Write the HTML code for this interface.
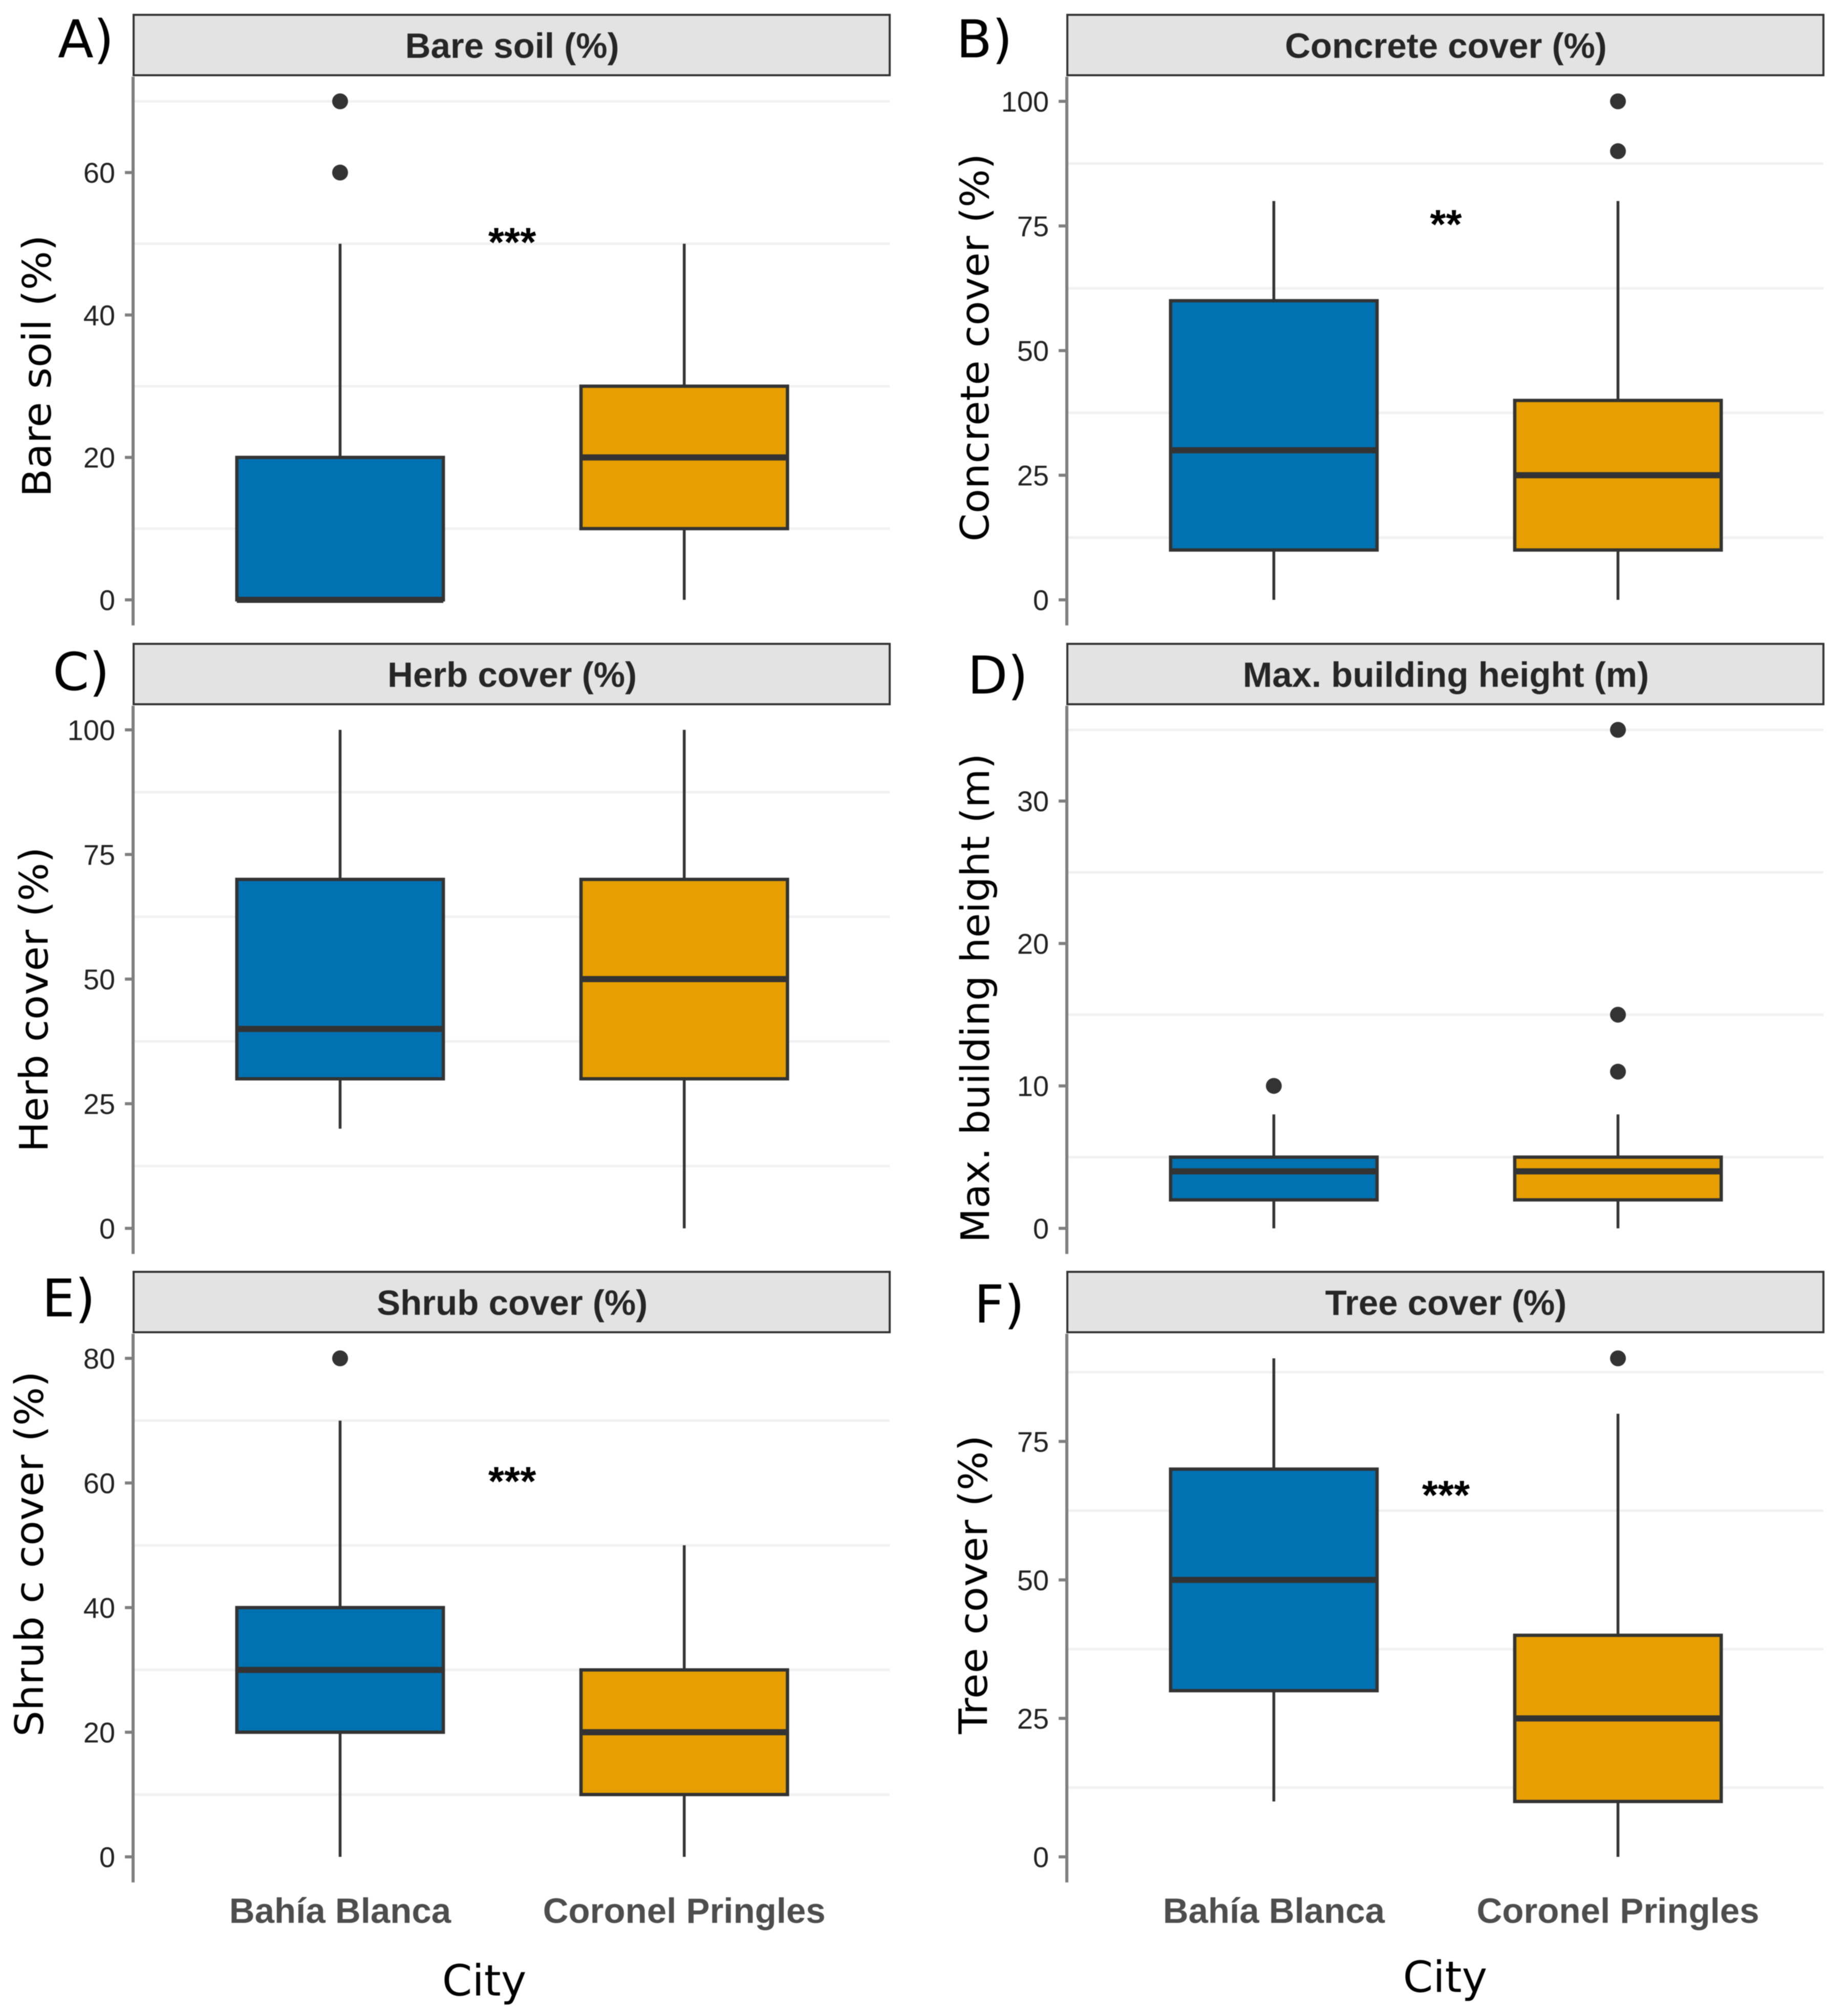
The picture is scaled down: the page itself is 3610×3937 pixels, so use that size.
<!DOCTYPE html>
<html>
<head>
<meta charset="utf-8">
<title>Urban cover boxplots by city</title>
<style>
html,body{margin:0;padding:0;background:#fff;width:3610px;height:3937px;overflow:hidden}
svg{display:block;position:absolute;left:0;top:0;filter:blur(0.8px)}
</style>
</head>
<body>
<svg id="chart" xmlns="http://www.w3.org/2000/svg" width="3610" height="3937" viewBox="0 0 3610 3937"></svg>
<script>
const categories = ['Bahía Blanca', 'Coronel Pringles'];
const xAxisTitle = 'City';

// Boxplot stats are [lower whisker, q1, median, q3, upper whisker]
const bareSoilDomain = [0, 70];
const bareSoilTicks = [0, 20, 40, 60];
const bareSoilGrid = [10, 30, 50, 70];
const bareSoilBahia = [0, 0, 0, 20, 50];
const bareSoilBahiaOutliers = [60, 70];
const bareSoilPringles = [0, 10, 20, 30, 50];
const bareSoilPringlesOutliers = [];
const bareSoilSignificance = ['***', 50];

const concreteDomain = [0, 100];
const concreteTicks = [0, 25, 50, 75, 100];
const concreteGrid = [12.5, 37.5, 62.5, 87.5];
const concreteBahia = [0, 10, 30, 60, 80];
const concreteBahiaOutliers = [];
const concretePringles = [0, 10, 25, 40, 80];
const concretePringlesOutliers = [90, 100];
const concreteSignificance = ['**', 75];

const herbDomain = [0, 100];
const herbTicks = [0, 25, 50, 75, 100];
const herbGrid = [12.5, 37.5, 62.5, 87.5];
const herbBahia = [20, 30, 40, 70, 100];
const herbBahiaOutliers = [];
const herbPringles = [0, 30, 50, 70, 100];
const herbPringlesOutliers = [];
const herbSignificance = ['', 0];

const heightDomain = [0, 35];
const heightTicks = [0, 10, 20, 30];
const heightGrid = [5, 15, 25, 35];
const heightBahia = [0, 2, 4, 5, 8];
const heightBahiaOutliers = [10];
const heightPringles = [0, 2, 4, 5, 8];
const heightPringlesOutliers = [11, 15, 35];
const heightSignificance = ['', 0];

const shrubDomain = [0, 80];
const shrubTicks = [0, 20, 40, 60, 80];
const shrubGrid = [10, 30, 50, 70];
const shrubBahia = [0, 20, 30, 40, 70];
const shrubBahiaOutliers = [80];
const shrubPringles = [0, 10, 20, 30, 50];
const shrubPringlesOutliers = [];
const shrubSignificance = ['***', 60];

const treeDomain = [0, 90];
const treeTicks = [0, 25, 50, 75];
const treeGrid = [12.5, 37.5, 62.5, 87.5];
const treeBahia = [10, 30, 50, 70, 90];
const treeBahiaOutliers = [];
const treePringles = [0, 10, 25, 40, 80];
const treePringlesOutliers = [90];
const treeSignificance = ['***', 65];

const panels = [
  {key:'bare-soil', tag:'A)', title:'Bare soil (%)', yTitle:'Bare soil (%)', col:0, row:0, domain:bareSoilDomain, ticks:bareSoilTicks, grid:bareSoilGrid,
   series:[bareSoilBahia, bareSoilPringles], outliers:[bareSoilBahiaOutliers, bareSoilPringlesOutliers], sig:bareSoilSignificance,
   tagX:113, tagY:112, titleX:99, titleMid:715, titleLen:512},
  {key:'concrete', tag:'B)', title:'Concrete cover (%)', yTitle:'Concrete cover (%)', col:1, row:0, domain:concreteDomain, ticks:concreteTicks, grid:concreteGrid,
   series:[concreteBahia, concretePringles], outliers:[concreteBahiaOutliers, concretePringlesOutliers], sig:concreteSignificance,
   tagX:1868, tagY:112, titleX:1931, titleMid:679, titleLen:758},
  {key:'herb', tag:'C)', title:'Herb cover (%)', yTitle:'Herb cover (%)', col:0, row:1, domain:herbDomain, ticks:herbTicks, grid:herbGrid,
   series:[herbBahia, herbPringles], outliers:[herbBahiaOutliers, herbPringlesOutliers], sig:herbSignificance,
   tagX:103, tagY:1348, titleX:93, titleMid:1953, titleLen:596},
  {key:'height', tag:'D)', title:'Max. building height (m)', yTitle:'Max. building height (m)', col:1, row:1, domain:heightDomain, ticks:heightTicks, grid:heightGrid,
   series:[heightBahia, heightPringles], outliers:[heightBahiaOutliers, heightPringlesOutliers], sig:heightSignificance,
   tagX:1890, tagY:1355, titleX:1932, titleMid:1950, titleLen:956},
  {key:'shrub', tag:'E)', title:'Shrub cover (%)', yTitle:'Shrub c cover (%)', col:0, row:2, domain:shrubDomain, ticks:shrubTicks, grid:shrubGrid,
   series:[shrubBahia, shrubPringles], outliers:[shrubBahiaOutliers, shrubPringlesOutliers], sig:shrubSignificance,
   tagX:82, tagY:2572, titleX:84, titleMid:3036, titleLen:714},
  {key:'tree', tag:'F)', title:'Tree cover (%)', yTitle:'Tree cover (%)', col:1, row:2, domain:treeDomain, ticks:treeTicks, grid:treeGrid,
   series:[treeBahia, treePringles], outliers:[treeBahiaOutliers, treePringlesOutliers], sig:treeSignificance,
   tagX:1903, tagY:2584, titleX:1928, titleMid:3096, titleLen:584}
];

const NS = 'http://www.w3.org/2000/svg';
const svg = document.getElementById('chart');
const SANS = '"Liberation Sans", sans-serif';
const DEJAVU = '"DejaVu Sans", sans-serif';
const fills = ['#0072B2', '#E69F00'];
const colLeft = [261, 2085];
const colWidth = 1477;
const scaleWidth = 1479;
const rowZero = [1172, 2400, 3628];
const plotHeight = 974;
const stripTop = [29, 1258, 2485];
const stripHeight = 118;

function make(parent, tag, attrs, text) {
  const el = document.createElementNS(NS, tag);
  for (const k in attrs) el.setAttribute(k, attrs[k]);
  if (text !== undefined) el.textContent = text;
  parent.appendChild(el);
  return el;
}
function xScale(panel, index) {
  // discrete axis with 0.6 unit expansion on either side
  return colLeft[panel.col] + (index + 0.6) * (scaleWidth / 2.2);
}
function yScale(panel, value) {
  const d = panel.domain;
  return rowZero[panel.row] - (value - d[0]) / (d[1] - d[0]) * plotHeight;
}

panels.forEach(function (p) {
  const left = colLeft[p.col];
  const right = left + colWidth;
  const top = stripTop[p.row];
  const unit = scaleWidth / 2.2;
  const g = make(svg, 'g', {});
  
  

  p.grid.forEach(function (v) {
    const line = make(g, 'line', {x1:left, x2:right, y1:yScale(p, v), y2:yScale(p, v), stroke:'#f1f1f1', 'stroke-width':5});
    
    
  });

  const strip = make(g, 'rect', {x:left, y:top, width:colWidth, height:stripHeight, fill:'#e3e3e3', stroke:'#333333', 'stroke-width':4});
  
  
  const stripText = make(g, 'text', {x:left + colWidth / 2 + 1, y:top + stripHeight / 2 + 25, 'text-anchor':'middle', 'font-family':SANS, 'font-weight':'bold', 'font-size':69, fill:'#262626'}, p.title);
  
  

  const axis = make(g, 'line', {x1:left - 1, x2:left - 1, y1:top + stripHeight + 3, y2:rowZero[p.row] + 50, stroke:'#7f7f7f', 'stroke-width':6});
  
  

  p.ticks.forEach(function (v) {
    const y = yScale(p, v);
    const tick = make(g, 'line', {x1:left - 17, x2:left - 1, y1:y, y2:y, stroke:'#7f7f7f', 'stroke-width':6});
    
    
    const label = make(g, 'text', {x:left - 36, y:y + 20, 'text-anchor':'end', 'font-family':SANS, 'font-size':56, fill:'#222222'}, String(v));
    
    
  });

  p.series.forEach(function (s, i) {
    const cx = xScale(p, i);
    const half = unit * 0.3;
    const whisker = make(g, 'line', {x1:cx, x2:cx, y1:yScale(p, s[0]), y2:yScale(p, s[4]), stroke:'#333333', 'stroke-width':5.5});
    
    
    const box = make(g, 'rect', {x:cx - half, y:yScale(p, s[3]), width:half * 2, height:yScale(p, s[1]) - yScale(p, s[3]), fill:fills[i], stroke:'#333333', 'stroke-width':6.5});
    
    
    const median = make(g, 'line', {x1:cx - half, x2:cx + half, y1:yScale(p, s[2]), y2:yScale(p, s[2]), stroke:'#333333', 'stroke-width':12});
    
    
    p.outliers[i].forEach(function (v) {
      const dot = make(g, 'circle', {cx:cx, cy:yScale(p, v), r:15.5, fill:'#333333'});
      
      
    });
  });

  if (p.sig[0]) {
    const star = make(g, 'text', {x:left + colWidth / 2 + 1, y:yScale(p, p.sig[1]) + 24, 'text-anchor':'middle', 'font-family':SANS, 'font-weight':'bold', 'font-size':80, fill:'#000000'}, p.sig[0]);
    
    
  }

  const tag = make(g, 'text', {x:p.tagX, y:p.tagY, 'font-family':DEJAVU, 'font-size':102, fill:'#000000'}, p.tag);
  
  

  const yt = make(g, 'text', {x:0, y:0, transform:'translate(' + p.titleX + ',' + p.titleMid + ') rotate(-90)', 'text-anchor':'middle', 'font-family':DEJAVU, 'font-size':77, fill:'#000000', textLength:p.titleLen, lengthAdjust:'spacingAndGlyphs'}, p.yTitle);
  
  

  if (p.row === 2) {
    categories.forEach(function (c, i) {
      const xl = make(g, 'text', {x:xScale(p, i), y:3757, 'text-anchor':'middle', 'font-family':SANS, 'font-weight':'bold', 'font-size':69, fill:'#4d4d4d'}, c);
      
      
    });
    const xt = make(g, 'text', {x:p.col === 0 ? 946 : 2823, y:p.col === 0 ? 3899 : 3892, 'text-anchor':'middle', 'font-family':DEJAVU, 'font-size':84, fill:'#000000'}, xAxisTitle);
    
    
  }
});
</script>
</body>
</html>
